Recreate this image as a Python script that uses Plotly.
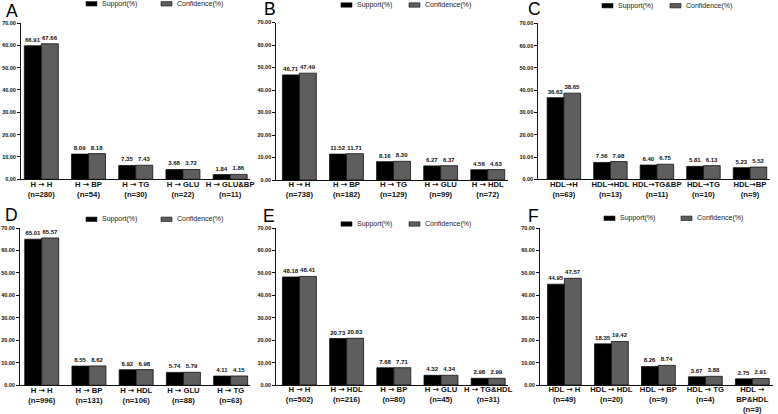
import plotly.graph_objects as go

# ---------------- data ----------------
A_rules = ["H → H", "H → BP", "H → TG", "H → GLU", "H → GLU&BP"]
A_n = [280, 54, 30, 22, 11]
A_support = [59.8, 11.3, 6.2, 4.4, 2.1]          # bar heights as drawn
A_confidence = [60.7, 11.5, 6.3, 4.4, 2.2]
A_support_lbl = ["66.91", "8.09", "7.35", "3.68", "1.84"]
A_confidence_lbl = ["67.66", "8.18", "7.43", "3.72", "1.86"]

B_rules = ["H → H", "H → BP", "H → TG", "H → GLU", "H → HDL"]
B_n = [738, 182, 129, 99, 72]
B_support = [46.71, 11.52, 8.16, 6.27, 4.56]
B_confidence = [47.49, 11.71, 8.30, 6.37, 4.63]

C_rules = ["HDL→H", "HDL→HDL", "HDL→TG&BP", "HDL→TG", "HDL→BP"]
C_n = [63, 13, 11, 10, 9]
C_support = [36.63, 7.56, 6.40, 5.81, 5.23]
C_confidence = [38.65, 7.98, 6.75, 6.13, 5.52]

D_rules = ["H → H", "H → BP", "H → HDL", "H → GLU", "H → TG"]
D_n = [996, 131, 106, 88, 63]
D_support = [65.01, 8.55, 6.92, 5.74, 4.11]
D_confidence = [65.57, 8.62, 6.98, 5.79, 4.15]

E_rules = ["H → H", "H → HDL", "H → BP", "H → GLU", "H → TG&HDL"]
E_n = [502, 216, 80, 45, 31]
E_support = [48.18, 20.73, 7.68, 4.32, 2.98]
E_confidence = [48.41, 20.83, 7.71, 4.34, 2.99]

F_rules = ["HDL → H", "HDL → HDL", "HDL → BP", "HDL → TG", "HDL →\nBP&HDL"]
F_n = [49, 20, 9, 4, 3]
F_support = [44.95, 18.35, 8.26, 3.67, 2.75]
F_confidence = [47.57, 19.42, 8.74, 3.88, 2.91]

y_ticks = [0, 10, 20, 30, 40, 50, 60, 70]

def fmt(vals):
    return ["%.2f" % v for v in vals]

panels = [
    dict(letter="A", rules=A_rules, n=A_n, sup=A_support, conf=A_confidence,
         sup_lbl=A_support_lbl, conf_lbl=A_confidence_lbl),
    dict(letter="B", rules=B_rules, n=B_n, sup=B_support, conf=B_confidence),
    dict(letter="C", rules=C_rules, n=C_n, sup=C_support, conf=C_confidence),
    dict(letter="D", rules=D_rules, n=D_n, sup=D_support, conf=D_confidence),
    dict(letter="E", rules=E_rules, n=E_n, sup=E_support, conf=E_confidence),
    dict(letter="F", rules=F_rules, n=F_n, sup=F_support, conf=F_confidence),
]

# ---------------- layout geometry (pixels) ----------------
W, H = 778, 414
geom = [
    # x-domain px, y px of 70 and 0, x range, legend (black x, grey x, y), letter (x, y)
    dict(xd=(21, 250), yd=(23, 179.3), xr=(-0.43, 4.42), leg=(86, 161, 3.8), let=(4, 11)),
    dict(xd=(276.3, 508), yd=(22.5, 180), xr=(-0.49, 4.43), leg=(341, 409, 5), let=(262, 9.5)),
    dict(xd=(538.3, 770), yd=(23.3, 179.3), xr=(-0.55, 4.43), leg=(602, 670, 5.7), let=(526, 9)),
    dict(xd=(20, 250), yd=(228, 385.3), xr=(-0.46, 4.41), leg=(86, 161, 219.3), let=(3, 215)),
    dict(xd=(276.3, 508), yd=(228, 385), xr=(-0.49, 4.42), leg=(341, 409, 224), let=(261, 216)),
    dict(xd=(540, 773), yd=(228, 385), xr=(-0.52, 4.44), leg=(604, 681, 218.3), let=(526, 215.5)),
]

SUP_COLOR = "#000000"
CONF_COLOR = "#5e5e5e"
FONT = "Liberation Sans, Arial, sans-serif"
ARROW = '<span style="font-family:DejaVu Sans">→</span>'

fig = go.Figure()
shapes = []
annotations = []

for i, (p, g) in enumerate(zip(panels, geom)):
    k = "" if i == 0 else str(i + 1)
    xa, ya = "x" + k, "y" + k
    cats = ["%s<br>(n=%d)" % (r.replace("\n", "<br>"), nn) for r, nn in zip(p["rules"], p["n"])]
    ticktext = [c.replace("→", ARROW) for c in cats]
    sup_lbl = p.get("sup_lbl", fmt(p["sup"]))
    conf_lbl = p.get("conf_lbl", fmt(p["conf"]))
    for name, vals, lbl, col in (("Support(%)", p["sup"], sup_lbl, SUP_COLOR),
                                 ("Confidence(%)", p["conf"], conf_lbl, CONF_COLOR)):
        fig.add_trace(go.Bar(
            x=cats, y=vals, name=name, text=lbl, textposition="outside",
            textfont=dict(size=6, color="#111", family=FONT, weight="bold"),
            constraintext="none", cliponaxis=False,
            marker=dict(color=col, line=dict(color="#111", width=0.8)),
            xaxis=xa, yaxis=ya, showlegend=False, offsetgroup=name,
        ))
    x0, x1 = g["xd"]
    y70, y0 = g["yd"]
    fig.layout["xaxis" + k] = dict(
        domain=[x0 / W, x1 / W], range=list(g["xr"]), anchor=ya, automargin=False,
        tickmode="array", tickvals=cats, ticktext=ticktext, ticklabelstandoff=-3,
        showline=True, linecolor="#111", linewidth=1, ticks="", showgrid=False,
        tickfont=dict(size=7.7, color="#111", family=FONT, weight="bold"),
        zeroline=False, fixedrange=True,
    )
    fig.layout["yaxis" + k] = dict(
        domain=[1 - y0 / H, 1 - y70 / H], range=[0, 70], anchor=xa, automargin=False,
        tickvals=y_ticks, tickformat=".2f",
        showline=True, linecolor="#111", linewidth=1, ticks="outside", ticklen=3,
        tickwidth=1, tickcolor="#111", showgrid=False, zeroline=False,
        tickfont=dict(size=5.5, color="#111", family=FONT, weight="bold"),
        fixedrange=True,
    )
    # legend swatches and text
    bx, gx, ly = g["leg"]
    for sx, col, label in ((bx, SUP_COLOR, "Support(%)"), (gx, CONF_COLOR, "Confidence(%)")):
        shapes.append(dict(type="rect", xref="paper", yref="paper",
                           x0=sx / W, x1=(sx + 11) / W,
                           y0=1 - (ly + 2.2) / H, y1=1 - (ly - 2.2) / H,
                           fillcolor=col, line=dict(color="#111", width=0.6)))
        annotations.append(dict(xref="paper", yref="paper", x=(sx + 14) / W, y=1 - ly / H,
                                xanchor="left", yanchor="middle", showarrow=False,
                                text=label, font=dict(size=7, color="#222", family=FONT)))
    lx, lyy = g["let"]
    annotations.append(dict(xref="paper", yref="paper", x=lx / W, y=1 - lyy / H,
                            xanchor="left", yanchor="middle", showarrow=False,
                            text=p["letter"], font=dict(size=17.5, color="#000", family=FONT)))

fig.update_layout(
    template="none",
    width=W, height=H, margin=dict(l=0, r=0, t=0, b=0, autoexpand=False),
    paper_bgcolor="white", plot_bgcolor="white",
    barmode="group", bargap=0.28, bargroupgap=0,
    shapes=shapes, annotations=annotations, showlegend=False,
    font=dict(family=FONT),
)

fig.write_html(
    "out.html",
    config={"displayModeBar": False, "staticPlot": True},
    post_script="document.body.style.margin='0px';document.body.style.overflow='hidden';",
)
